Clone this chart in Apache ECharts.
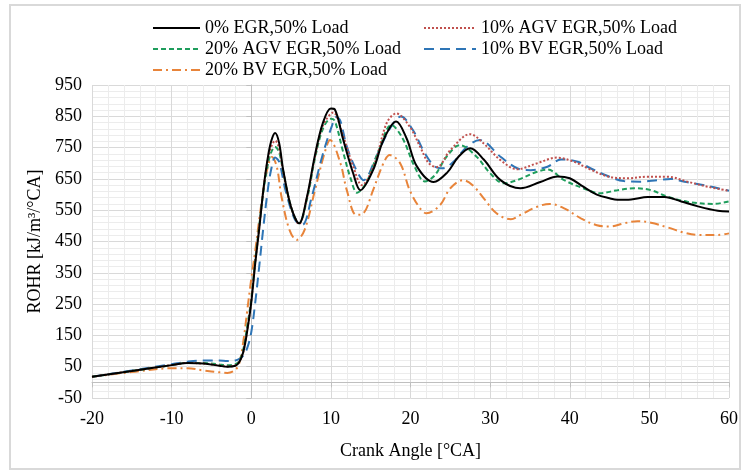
<!DOCTYPE html>
<html>
<head>
<meta charset="utf-8">
<script src="https://cdn.jsdelivr.net/npm/echarts@6/dist/echarts.min.js"></script>
<style>html,body{margin:0;padding:0;background:#fff}#c{width:749px;height:475px}</style>
</head>
<body>
<div id="c"></div>
<script>
const seriesNames = ['0% EGR,50% Load','10% AGV EGR,50% Load','20% AGV EGR,50% Load','10% BV EGR,50% Load','20% BV EGR,50% Load'];
const xTicks = [-20,-10,0,10,20,30,40,50,60];
const yTicks = [-50,50,150,250,350,450,550,650,750,850,950];

const xEGR0 = [-20,-15,-10,-8,-6,-4,-3,-2,-1.5,-1,-0.5,0,0.5,1,1.5,2,2.5,3,3.5,4,5,6,7,8,9,10,10.5,11.5,12.8,13.7,15.3,16.6,18.2,19.5,20.8,22.9,24.6,26,27.5,29.2,31.3,33.8,36.3,38.5,40,41.7,43.4,45,46,47.7,49.8,51.9,54,56,58.6,60];
const yEGR0 = [18,36,55,62,60,53,50,53,65,97,165,255,380,490,610,705,770,797,765,680,560,508,593,726,829,875,872,780,668,614,678,774,833,780,690,640,670,720,748,712,646,620,640,658,652,625,600,588,583,584,592,592,578,563,548,546];

const xAGV10 = [-20,-15,-10,-8,-6,-4,-3,-2,-1.5,-1,-0.5,0,0.5,1,1.5,2,2.5,3,3.5,4,5,6,7,8,9,10.3,11.5,12.8,13.9,15.5,17,18.2,19.9,21.2,22.3,23.3,25,27.5,29.2,31.3,33.4,35.9,38.4,40.5,42.6,44.9,47.2,49.8,52.3,54.8,57.3,60];
const yAGV10 = [18,36,55,62,60,54,51,54,66,98,168,260,385,495,610,700,752,772,748,675,560,506,590,720,820,862,790,690,630,700,828,859,817,753,700,688,742,793,763,710,681,700,718,705,680,657,652,657,657,641,625,612];

const xAGV20 = [-20,-15,-10,-8,-6,-4,-3,-2,-1.5,-1,-0.5,0,0.5,1,1.5,2,2.5,3,3.5,4,5,6,7,8,9,10,10.5,11.5,12.5,13.3,14.5,16,17.6,19,20.5,21.8,23,24.5,26.2,28.3,30,31.7,33.4,35.9,37.2,39.3,41.7,43.8,46,48.1,50.2,52.3,54.8,58,60];
const yAGV20 = [18,36,55,62,62,57,55,58,68,105,180,265,390,500,605,685,735,752,735,675,560,508,585,715,810,842,835,740,650,606,640,740,822,780,690,642,660,720,758,721,668,636,646,673,680,646,620,604,614,620,614,593,577,570,578];

const xBV10 = [-20,-15,-10,-8,-6,-4,-3,-2,-1.5,-1,-0.5,0,0.5,1,1.5,2,2.5,3,3.5,4.3,5.5,6.4,7.6,8.9,10.1,10.7,11.2,12,13.2,14.1,15.7,17.3,18.8,20.3,21.8,23.1,24.1,25.4,27.1,28.7,31.3,33.4,35.1,37.2,38.9,41,42.6,44.7,46.8,48.9,51,52.7,54.4,56.9,60];
const yBV10 = [18,38,58,66,70,70,68,70,75,85,110,160,255,370,490,600,680,718,705,614,519,503,593,721,817,848,835,753,678,646,721,806,849,806,732,689,684,705,753,774,721,684,678,689,712,705,684,660,643,641,646,650,641,630,612];

const xBV20 = [-20,-15,-10,-8,-6,-4,-3,-2,-1.5,-1,-0.5,0,0.5,1,1.5,2,2.6,3.2,3.8,4.8,5.7,6.7,8,9.2,9.9,11.2,12,13.2,14.1,15.3,16.6,17.4,18.7,19.9,21.2,22,23.7,25,26.6,27.8,29.2,30.8,32.6,33.8,35.9,37.5,39.3,41.4,43.4,45.1,46.8,48.5,50.2,52.3,54.4,56.1,58.6,60];
const yBV20 = [18,33,45,45,38,32,30,40,62,130,230,330,420,520,610,680,720,690,593,487,455,487,614,732,774,700,614,535,540,614,700,726,700,614,556,540,566,620,646,630,588,540,521,535,561,570,556,524,502,498,508,515,510,495,478,471,471,476];

const xs = [xEGR0, xAGV10, xAGV20, xBV10, xBV20];
const ys = [yEGR0, yAGV10, yAGV20, yBV10, yBV20];
const colors = ['#000000','#c0504d','#1f9d5c','#2e75b6','#e8843a'];
const dashes = ['solid',[2,2],[5,3],[10,6],[9,4,2,4]];

const FONT = '"Liberation Serif", "Times New Roman", serif';
const chart = echarts.init(document.getElementById('c'), null, {renderer:'canvas'});

const series = seriesNames.map((n,i)=>({
  name:n, type:'line', smooth:0.35, symbol:'none', showSymbol:false,
  data: xs[i].map((x,j)=>[x, ys[i][j]]),
  lineStyle:{color:colors[i], width:2, type:dashes[i]},
  itemStyle:{color:colors[i]},
  z: 10 - i
}));

const legendCommon = {orient:'vertical', top:14, itemGap:3, itemHeight:14,
  itemStyle:{opacity:0}, textStyle:{fontFamily:FONT, fontSize:18, color:'#000'}};

chart.setOption({
  animation:false,
  backgroundColor:'#fff',
  graphic:[{type:'rect', shape:{x:10,y:5,width:730,height:464}, style:{fill:'none', stroke:'#d9d9d9', lineWidth:2}, silent:true}],
  legend:[
    Object.assign({left:147, itemWidth:47, data:[seriesNames[0],seriesNames[2],seriesNames[4]]}, legendCommon),
    Object.assign({left:418, itemWidth:52, data:[seriesNames[1],seriesNames[3]]}, legendCommon)
  ],
  grid:{left:92, right:20, top:85, bottom:77, containLabel:false},
  xAxis:{type:'value', min:xTicks[0], max:xTicks[xTicks.length-1], interval:10,
    name:'Crank Angle [°CA]', nameLocation:'middle', nameGap:44,
    nameTextStyle:{fontFamily:FONT, fontSize:18, color:'#000'},
    axisLine:{show:true, lineStyle:{color:'#bfbfbf'}},
    axisTick:{show:true, length:5, lineStyle:{color:'#bfbfbf'}},
    axisLabel:{fontFamily:FONT, fontSize:18, color:'#000', margin:12},
    splitLine:{show:true, lineStyle:{color:'#d9d9d9', width:1}},
    minorTick:{show:false, splitNumber:5},
    minorSplitLine:{show:true, lineStyle:{color:'#ececec', width:1}}
  },
  yAxis:{type:'value', min:yTicks[0], max:yTicks[yTicks.length-1], interval:100,
    name:'ROHR [kJ/m³/°CA]', nameLocation:'middle', nameGap:48,
    nameTextStyle:{fontFamily:FONT, fontSize:18, color:'#000'},
    axisLine:{show:true, lineStyle:{color:'#bfbfbf'}},
    axisTick:{show:true, length:5, lineStyle:{color:'#bfbfbf'}},
    axisLabel:{fontFamily:FONT, fontSize:18, color:'#000', margin:10},
    splitLine:{show:true, lineStyle:{color:'#d9d9d9', width:1}},
    minorTick:{show:false, splitNumber:5},
    minorSplitLine:{show:true, lineStyle:{color:'#ececec', width:1}}
  },
  series: series
});
</script>
</body>
</html>
